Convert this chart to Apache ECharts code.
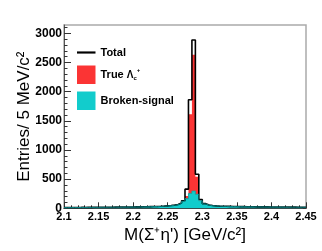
<!DOCTYPE html>
<html><head><meta charset="utf-8">
<script src="https://cdn.jsdelivr.net/npm/echarts@6/dist/echarts.min.js"></script>
<style>html,body{margin:0;padding:0;background:#fff}#c{width:322px;height:251px}</style>
</head><body><div id="c"></div>
<script>
// Histogram binning: 70 bins of 5 MeV from 2.100 to 2.450 GeV
const xMin = 2.1, xMax = 2.45, binWidth = 0.005;
const binLow = Array.from({length: 70}, (_, i) => +(xMin + binWidth * i).toFixed(3));

// Broken-signal (cyan) per bin
const brokenSignal = [
  12,12,13,13,14,14,15,15,16,16,
  17,17,18,18,19,20,20,21,22,22,
  23,24,25,26,28,29,31,33,36,40,
  45,52,62,85,120,165,255,295,240,130,
  75,55,45,40,37,35,33,32,30,29,
  28,27,26,26,25,24,24,23,23,22,
  22,21,21,20,20,19,19,18,18,18
];
// True Lambda_c+ (red), stacked on broken-signal
const trueLc = [
  0,0,0,0,0,0,0,0,0,0,
  0,0,0,0,0,0,0,0,0,0,
  0,0,0,0,0,0,0,0,0,0,
  0,0,0,3,5,45,1357,2335,300,10,
  2,0,0,0,0,0,0,0,0,0,
  0,0,0,0,0,0,0,0,0,0,
  0,0,0,0,0,0,0,0,0,0
];
// Total (black outline)
const total = [
  13,13,14,14,15,15,16,16,17,17,
  18,18,19,19,20,21,21,22,23,23,
  24,25,26,27,29,30,32,34,37,42,
  47,55,66,92,130,328,1860,2885,583,150,
  80,57,47,42,38,36,34,33,31,30,
  29,28,27,27,26,25,25,24,24,23,
  23,22,22,21,21,20,20,19,19,19
];
const yMajorTicks = [0,500,1000,1500,2000,2500,3000];
const yMinorTicks = [];
for (let v = 100; v < 3142; v += 100) if (v % 500) yMinorTicks.push(v);

function stepData(vals) {
  const d = binLow.map((x, i) => [x, vals[i]]);
  d.push([xMax, vals[vals.length - 1]]);
  return d;
}
const redStack = trueLc.map((v, i) => v + brokenSignal[i]);

const FONT = 'Liberation Sans';
const chart = echarts.init(document.getElementById('c'), null, {renderer: 'canvas'});
chart.setOption({
  animation: false,
  backgroundColor: '#fff',
  grid: {left: 64, right: 16, top: 25, bottom: 42.7, show: true, borderColor: '#aaa', borderWidth: 1.5},
  xAxis: {
    type: 'value', min: xMin, max: xMax, interval: 0.05,
    axisLine: {lineStyle: {color: '#333', width: 1}},
    axisTick: {inside: true, length: 6, lineStyle: {color: '#333'}},
    minorTick: {show: true, splitNumber: 5, length: 3, lineStyle: {color: '#333'}},
    splitLine: {show: false},
    axisLabel: {fontSize: 11, fontWeight: 'bold', fontFamily: FONT, color: '#000', margin: 3},
    name: 'M(Σ⁺η\') [GeV/c²]', nameLocation: 'middle', nameGap: 19, nameMoveOverlap: false,
    nameTextStyle: {fontSize: 17, fontFamily: FONT, color: '#000'}
  },
  yAxis: [{
    type: 'value', min: 0, max: 3142, position: 'left',
    axisLine: {show: true, lineStyle: {color: '#555', width: 1}},
    axisTick: {inside: true, length: 7, lineStyle: {color: '#333'}, customValues: yMajorTicks},
    axisLabel: {fontSize: 12, fontWeight: 'bold', fontFamily: FONT, color: '#000', margin: 2,
      customValues: yMajorTicks, formatter: v => String(v)},
    splitLine: {show: false},
    name: 'Entries/ 5 MeV/c²', nameLocation: 'middle', nameGap: 31, nameMoveOverlap: false,
    nameTextStyle: {fontSize: 17, fontFamily: FONT, color: '#000'}
  }, {
    type: 'value', min: 0, max: 3142, position: 'left',
    axisLine: {show: false},
    axisTick: {inside: true, length: 3.5, lineStyle: {color: '#333'}, customValues: yMinorTicks},
    axisLabel: {show: false},
    splitLine: {show: false}
  }],
  legend: {
    orient: 'vertical', left: 77, top: 47, padding: 0,
    itemWidth: 18.5, itemHeight: 18.5, itemGap: 7.5, selectedMode: false,
    textStyle: {fontSize: 11, fontWeight: 'bold', fontFamily: FONT, color: '#000',
      rich: {
        t: {fontSize: 11, fontWeight: 'bold', fontFamily: FONT, color: '#000', lineHeight: 14},
        l: {fontSize: 10, fontFamily: FONT, color: '#000', lineHeight: 14},
        s: {fontSize: 6, fontFamily: FONT, color: '#000', lineHeight: 6, verticalAlign: 'bottom'},
        p: {fontSize: 6, fontFamily: FONT, color: '#000', lineHeight: 6, verticalAlign: 'top'}
      }},
    formatter: n => n === 'True' ? '{t|True }{l|Λ}{s|c}{p|+}' : n,
    data: [
      {name: 'Total', icon: 'path://M0,0 L17,0 L17,2 L0,2 Z', itemStyle: {color: '#000', borderWidth: 0}},
      {name: 'True', icon: 'rect'},
      {name: 'Broken-signal', icon: 'rect'}
    ]
  },
  series: [{
    name: 'Total', type: 'line', step: 'end', symbol: 'none',
    data: stepData(total),
    lineStyle: {color: '#000', width: 1.6}, itemStyle: {color: '#000'}
  }, {
    name: 'True', type: 'line', step: 'end', symbol: 'none',
    data: stepData(redStack),
    lineStyle: {width: 0, color: '#fb3434'}, itemStyle: {color: '#fb3434'},
    areaStyle: {color: '#fb3434', opacity: 1}
  }, {
    name: 'Broken-signal', type: 'line', step: 'end', symbol: 'none',
    data: stepData(brokenSignal),
    lineStyle: {width: 0.8, color: '#0aa8a8'}, itemStyle: {color: '#12cccc'},
    areaStyle: {color: '#12cccc', opacity: 1}
  }]
});
</script></body></html>
